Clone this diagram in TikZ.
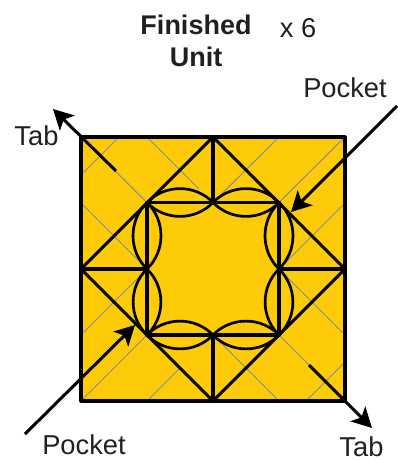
\documentclass[tikz,border=0pt]{standalone}
\usepackage{fontspec}
\setmainfont{Liberation Sans}
\usetikzlibrary{arrows.meta}
\definecolor{fillgold}{HTML}{FDCB08}
\definecolor{foldgrey}{HTML}{8C8C8C}
\definecolor{txt}{HTML}{231F20}
\tikzset{
  x=1pt,y=-1pt,
  thick line/.style={draw=black,line width=3.1pt,line cap=round,line join=round},
  arc line/.style={draw=black,line width=2.7pt},
  fold/.style={draw=foldgrey,line width=1pt},
  pointer/.style={draw=black,line width=3pt,-{Stealth[length=20pt,width=21pt,inset=5pt]}},
  label/.style={font=\fontsize{27.3}{32}\selectfont,text=txt,inner sep=0pt,align=center}
}
\begin{document}
\begin{tikzpicture}
\useasboundingbox (0,0) rectangle (397,460);
% grid of named points
\coordinate (TL) at (81,137); \coordinate (TM) at (213,137); \coordinate (TR) at (345,137);
\coordinate (ML) at (81,269); \coordinate (MR) at (345,269);
\coordinate (BL) at (81,401); \coordinate (BM) at (213,401); \coordinate (BR) at (345,401);
\coordinate (a) at (147,202.5); \coordinate (b) at (213,202.5); \coordinate (c) at (279,202.5);
\coordinate (d) at (147,269); \coordinate (e) at (279,269);
\coordinate (f) at (147,335); \coordinate (g) at (213,335); \coordinate (h) at (279,335);
\fill[fillgold] (TL) rectangle (BR);
% fold lines
\draw[fold] (TL)--(a) (147,137)--(199,189) (81,203)--(d) (e)--(345,335) (g)--(279,401) (h)--(BR);
\draw[fold] (81,175)--(119,137) (b)--(279,137) (c)--(TR) (e)--(345,203);
\draw[fold] (306,401)--(345,362) (81,335)--(d) (BL)--(f) (147,401)--(180,368);
% outline and creases
\draw[thick line] (TL) rectangle (BR);
\draw[thick line] (TM)--(MR)--(BM)--(ML)--cycle;
\draw[thick line] (TM)--(b) (ML)--(d) (MR)--(e) (BM)--(g);
\draw[thick line] (a)--(c)--(h)--(f)--cycle;
% petals
\foreach \p/\q in {a/b,b/c,c/e,e/h,h/g,g/f,f/d,d/a}{
  \draw[arc line] (\p) to[bend left=46] (\q);
  \draw[arc line] (\p) to[bend right=46] (\q);
}
% labels
\node[label,font=\fontsize{27}{32}\selectfont\bfseries] (title) at (196,41) {Finished\\Unit};
\node[label] (count) at (298,28) {x 6};
\node[label] (pocketA) at (345,88) {Pocket};
\node[label] (pocketB) at (84,445) {Pocket};
\node[label] (tabA) at (36.5,135.5) {Tab};
\node[label] (tabB) at (361.5,447) {Tab};
% pointers
\coordinate (p1) at (397,106); \coordinate (p1t) at (291,212);
\coordinate (p2) at (25,434); \coordinate (p2t) at (135,325);
\coordinate (t1) at (116,171); \coordinate (t1t) at (53,109);
\coordinate (t2) at (309,365); \coordinate (t2t) at (372,428);
\draw[pointer] (p1)--(p1t);
\draw[pointer] (p2)--(p2t);
\draw[pointer] (t1)--(t1t);
\draw[pointer] (t2)--(t2t);
\end{tikzpicture}
\end{document}
